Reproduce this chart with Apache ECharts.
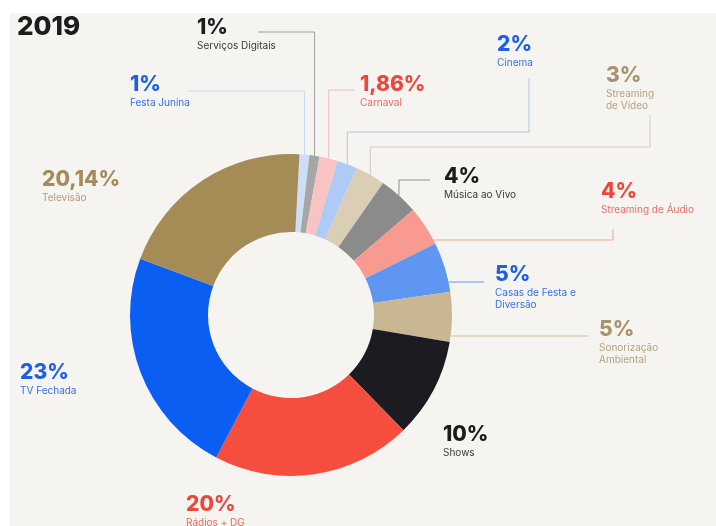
<!DOCTYPE html>
<html>
<head>
<meta charset="utf-8">
<script src="https://cdn.jsdelivr.net/npm/echarts@6/dist/echarts.min.js"></script>
<style>
  html, body { margin: 0; padding: 0; background: #ffffff; }
  #chart { width: 716px; height: 526px; }
</style>
</head>
<body>
<div id="chart"></div>
<script>
// Share of music-rights revenue by segment, 2019 (clockwise from the top)
const categories = [
  'Festa Junina', 'Serviços Digitais', 'Carnaval', 'Cinema',
  'Streaming\nde Vídeo', 'Música ao Vivo', 'Streaming de Áudio',
  'Casas de Festa e\nDiversão', 'Sonorização\nAmbiental', 'Shows',
  'Rádios + DG', 'TV Fechada', 'Televisão'
];
const shares = [1, 1, 1.86, 2, 3, 4, 4, 5, 5, 10, 20, 23, 20.14];

// Styling
const sliceColors = ['#cfdef8', '#a6a6a6', '#f8c3c3', '#aecaf7', '#dacfb6', '#8b8b8b',
  '#f89a90', '#5f96f2', '#c8b792', '#1b1b21', '#f54e3e', '#0b5ef2', '#a58c57'];
const pctColors = ['#1f5fe6', '#1c1c1c', '#e9483d', '#1f5fe6', '#a8946a', '#1c1c1c',
  '#e9483d', '#1f5fe6', '#a8946a', '#1c1c1c', '#e9483d', '#1f5fe6', '#a38c5a'];
const nameColors = ['#3a70e3', '#3a3a3a', '#e66d62', '#3a70e3', '#b3a27e', '#3a3a3a',
  '#e66d62', '#3a70e3', '#b3a27e', '#3a3a3a', '#e66d62', '#3a70e3', '#b09e78'];
const guideColors = ['#c9d8f2', '#a0a0a0', '#f2baba', '#aec5ee', '#d6cbb4', '#8e8e8e',
  '#f3a39b', '#6595e9', '#cdbf9f', null, null, null, null];

// Geometry of the ring (pixels)
const CX = 291, CY = 315, R_IN = 83, R_OUT = 161;

// Top-left of each label block (x, top of the percentage)
const labelAt = [[130, 75], [197, 18], [360, 75], [497, 35], [606, 66], [444, 167],
  [601, 182], [495, 265], [599, 320], [443, 425], [186, 495], [20, 363], [42, 170]];

// Guide lines: "turn" = leave the rim at slice middle and go straight up to this y;
// "rimY" = leave the rim at this height and run horizontally.
const guides = [
  { turn: 91, to: [[188, 91]] },
  { turn: 32, to: [[258, 32]] },
  { turn: 90, to: [[355, 90]] },
  { turn: 132, to: [[529, 132], [529, 78]] },
  { turn: 147, to: [[650, 147], [650, 115]] },
  { turn: 180, to: [[430, 180]] },
  { rimY: 240, to: [[613, 240], [613, 229]] },
  { rimY: 282, to: [[484, 282]] },
  { rimY: 336, to: [[589, 336]] },
  null, null, null, null
];

const FONT = 'Inter, "Noto Sans", sans-serif';
const fmtPct = v => String(v).replace('.', ',') + '%';

const pieData = categories.map((name, i) => ({
  name: name,
  value: shares[i],
  itemStyle: { color: sliceColors[i] },
  label: {
    show: true,
    position: 'outside',
    formatter: p => '{p|' + fmtPct(p.value) + '}\n{n|' + p.name + '}',
    rich: {
      p: { fontFamily: FONT, fontSize: 21, fontWeight: 800, lineHeight: 25, color: pctColors[i] },
      n: { fontFamily: FONT, fontSize: 10, fontWeight: 400, lineHeight: 12, color: nameColors[i] }
    }
  },
  labelLine: guides[i]
    ? { show: true, smooth: false, lineStyle: { color: guideColors[i], width: 1 } }
    : { show: false }
}));

const chart = echarts.init(document.getElementById('chart'), null, { renderer: 'canvas' });

chart.setOption({
  backgroundColor: '#ffffff',
  animation: false,
  graphic: [{
    type: 'rect', z: -10, silent: true,
    shape: { x: 10, y: 13, width: 706, height: 513 },
    style: { fill: '#f5f4f0' }
  }],
  title: {
    text: '2019',
    left: 12, top: 9,
    textStyle: { fontFamily: FONT, fontSize: 26, fontWeight: 800, color: '#1c1c1c' }
  },
  series: [{
    type: 'pie',
    center: [CX, CY],
    radius: [R_IN, R_OUT],
    startAngle: 87,
    clockwise: true,
    avoidLabelOverlap: false,
    silent: true,
    emphasis: { disabled: true },
    data: pieData,
    labelLayout: function (params) {
      const i = params.dataIndex;
      const out = { x: labelAt[i][0], y: labelAt[i][1] - 3, align: 'left', verticalAlign: 'top' };
      const g = guides[i];
      if (g) {
        let pts;
        if (g.rimY !== undefined) {
          const dx = Math.sqrt(R_OUT * R_OUT - (g.rimY - CY) * (g.rimY - CY));
          pts = [[CX + dx, g.rimY]].concat(g.to);
        } else {
          const s = params.labelLinePoints[0];
          pts = [[s[0], s[1]], [s[0], g.turn]].concat(g.to);
        }
        out.labelLinePoints = pts;
      }
      return out;
    }
  }]
});
</script>
</body>
</html>
